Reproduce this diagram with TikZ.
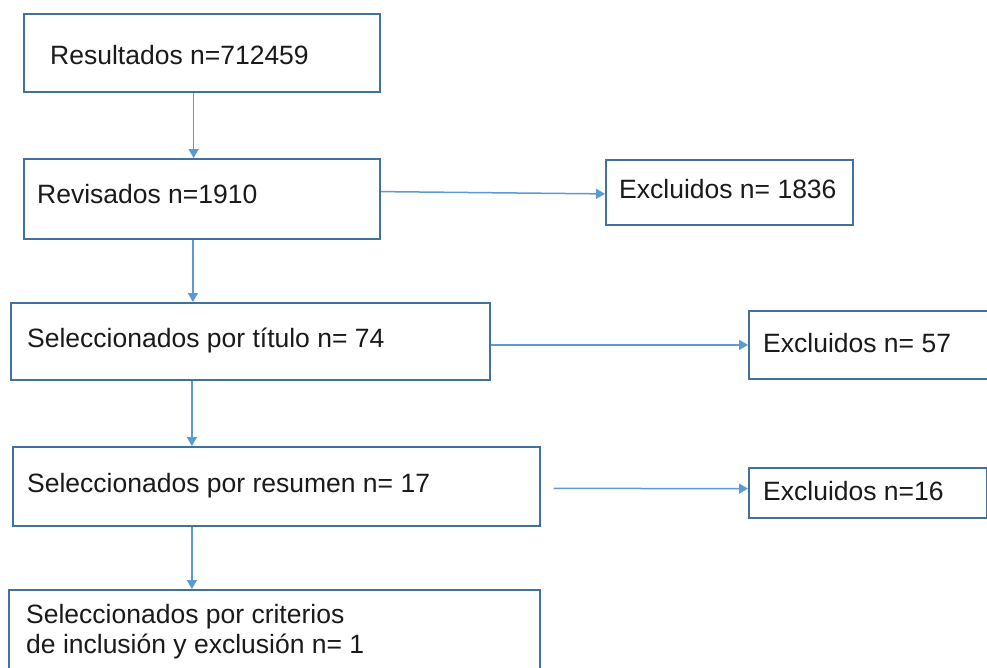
\documentclass[tikz,border=0pt]{standalone}
\usepackage{fontspec}
\setmainfont{Liberation Sans}
\usetikzlibrary{arrows.meta}
\definecolor{boxline}{HTML}{41719C}
\definecolor{arrline}{HTML}{5B9BD5}
\definecolor{txt}{HTML}{1A1A1A}
\tikzset{
  box/.style={draw=boxline, line width=1.8pt, rectangle, anchor=north west, inner sep=0pt},
  lbl/.style={anchor=base west, inner sep=0pt, text=txt, font=\fontsize{26.5}{30}\selectfont},
  arr/.style={draw=arrline, line width=1.5pt, -{Triangle[length=9pt,width=10pt]}}
}
\begin{document}
\begin{tikzpicture}[x=1pt,y=-1pt]
\useasboundingbox (0,0) rectangle (987,667);
\fill[white] (0,0) rectangle (987,667);
% boxes
\node[box, minimum width=356pt, minimum height=78pt] (b1) at (23,13) {};
\node[box, minimum width=356pt, minimum height=80pt] (b2) at (23,158) {};
\node[box, minimum width=479pt, minimum height=77pt] (b3) at (10,302) {};
\node[box, minimum width=527pt, minimum height=79pt] (b4) at (12,446) {};
\node[box, minimum width=531pt, minimum height=110pt] (b5) at (8,589) {};
\node[box, minimum width=247pt, minimum height=65pt] (e1) at (605,159) {};
\node[box, minimum width=270pt, minimum height=68pt] (e2) at (748,310) {};
\node[box, minimum width=238pt, minimum height=50pt] (e3) at (748,467) {};
% texts
\node[lbl] (t1) at (50,64) {Resultados n=712459};
\node[lbl] (t2) at (37,203) {Revisados n=1910};
\node[lbl] (t3) at (27,347) {Seleccionados por título n= 74};
\node[lbl] (t4) at (27,492) {Seleccionados por resumen n= 17};
\node[lbl] (t5a) at (26,623) {Seleccionados por criterios};
\node[lbl] (t5b) at (26,653) {de inclusión y exclusión n= 1};
\node[lbl] (te1) at (619,198) {Excluidos n= 1836};
\node[lbl] (te2) at (763,352) {Excluidos n= 57};
\node[lbl] (te3) at (763,500) {Excluidos n=16};
% vertical arrows
\draw[arr] ([xshift=-8.3pt]b1.south) -- ([xshift=-8.3pt]b2.north);
\draw[arr] ([xshift=-9pt]b2.south) -- ([xshift=-57.5pt]b3.north);
\draw[arr] ([xshift=-58.5pt]b3.south) -- ([xshift=-84.5pt]b4.north);
\draw[arr] ([xshift=-84.5pt]b4.south) -- ([xshift=-82.5pt]b5.north);
% horizontal arrows
\draw[arr] ([yshift=7.3pt]b2.east) -- ([yshift=-1.5pt]e1.west);
\draw[arr] ([yshift=-3.5pt]b3.east) -- (e2.west);
\draw[arr] ([xshift=12.7pt,yshift=-2pt]b4.east) -- ([yshift=4.3pt]e3.west);
\end{tikzpicture}
\end{document}
